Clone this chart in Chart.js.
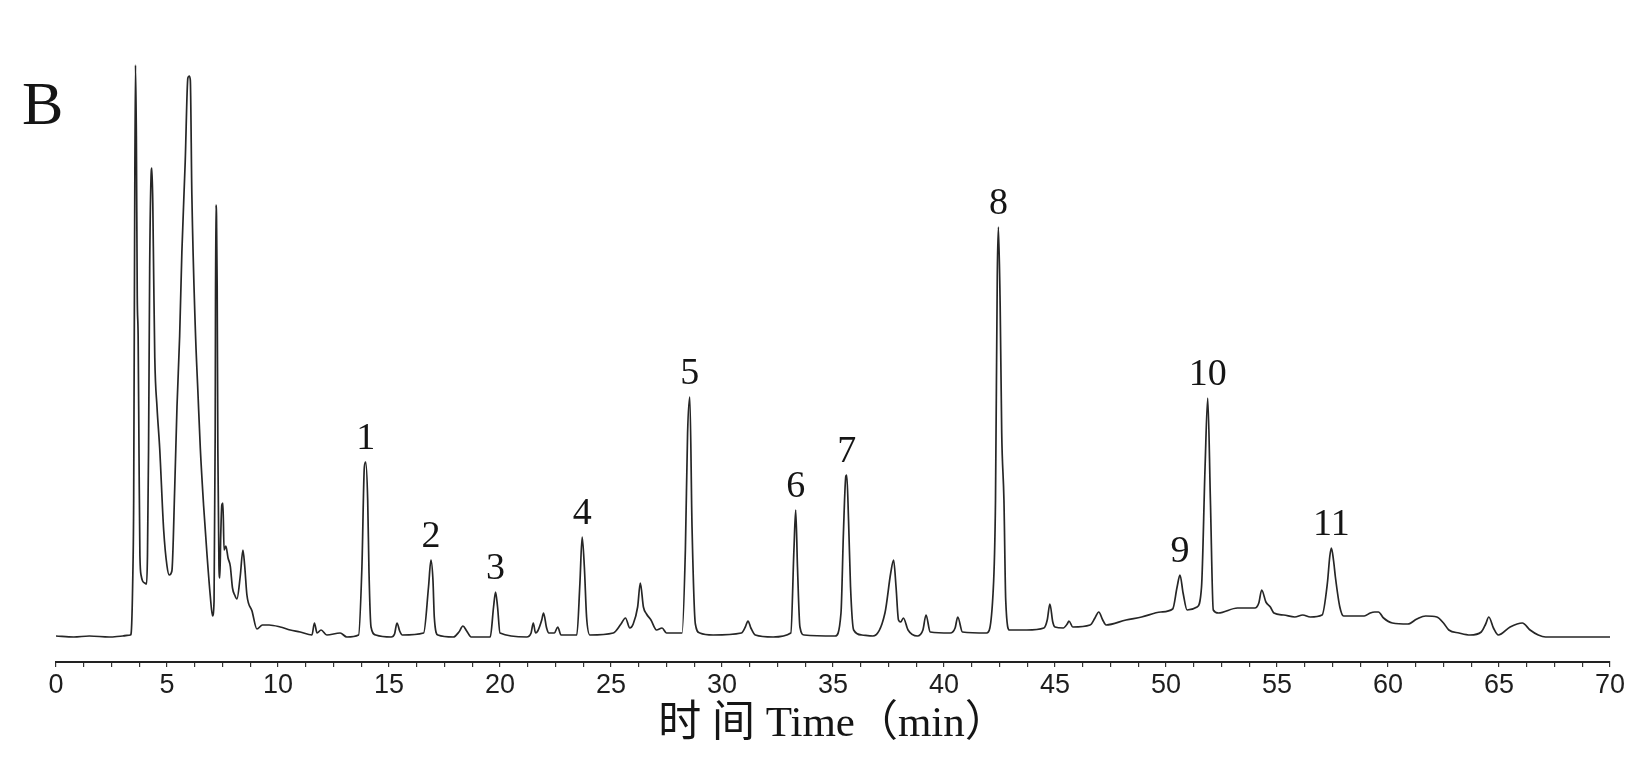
<!DOCTYPE html>
<html>
<head>
<meta charset="utf-8">
<title>HPLC chromatogram B</title>
<script src="https://cdn.jsdelivr.net/npm/chart.js@4.4.1/dist/chart.umd.min.js"></script>
<style>
    html, body { margin: 0; padding: 0; background: #fff; }
    #wrap { width: 1652px; height: 763px; position: relative; }
</style>
</head>
<body>
<div id="wrap"><canvas id="chromChart"></canvas></div>
<script>
// Chromatogram trace (retention time in min, detector response in arbitrary units)
const retentionTime = [
    0.0, 0.8, 1.5, 2.4, 3.0, 3.35, 3.38, 3.46, 3.50, 3.54, 3.58, 3.62, 3.66, 3.70, 3.74, 3.78, 3.84, 3.90, 4.00, 4.08,
    4.12, 4.17, 4.22, 4.28, 4.32, 4.36, 4.40, 4.45, 4.55, 4.67, 4.85, 5.00, 5.10, 5.22, 5.35, 5.45, 5.57, 5.67, 5.82, 5.94,
    6.00, 6.05, 6.12, 6.27, 6.40, 6.50, 6.65, 6.80, 6.95, 7.05, 7.12, 7.17, 7.20, 7.23, 7.26, 7.29, 7.34, 7.38, 7.42, 7.47,
    7.52, 7.57, 7.65, 7.75, 7.85, 7.95, 8.05, 8.15, 8.30, 8.42, 8.50, 8.60, 8.83, 9.05, 9.30, 9.60, 10.1, 10.55, 11.0, 11.53,
    11.64, 11.76, 11.94, 12.2, 12.8, 13.1, 13.63, 13.78, 13.89, 13.95, 14.04, 14.10, 14.19, 14.40, 15.10, 15.25, 15.36, 15.48, 15.60, 16.56,
    16.78, 16.89, 16.98, 17.04, 17.20, 17.90, 18.15, 18.33, 18.50, 18.70, 19.56, 19.71, 19.80, 19.89, 20.00, 21.20, 21.40, 21.50, 21.60, 21.70,
    21.88, 21.96, 22.10, 22.20, 22.45, 22.60, 22.75, 23.46, 23.60, 23.70, 23.80, 23.90, 24.05, 25.10, 25.45, 25.65, 25.85, 26.00, 26.20, 26.32,
    26.46, 26.60, 26.80, 27.05, 27.30, 27.50, 28.20, 28.35, 28.45, 28.55, 28.65, 28.80, 29.00, 29.60, 30.87, 31.05, 31.17, 31.30, 31.50, 32.30,
    33.10, 33.24, 33.32, 33.40, 33.51, 33.70, 35.10, 35.36, 35.47, 35.58, 35.62, 35.70, 35.79, 35.93, 36.30, 36.80, 37.34, 37.60, 37.73, 37.84,
    37.95, 38.05, 38.17, 38.38, 38.80, 39.05, 39.19, 39.38, 40.28, 40.50, 40.62, 40.83, 41.92, 42.21, 42.32, 42.40, 42.45, 42.53, 42.60, 42.70,
    42.78, 42.95, 43.73, 44.50, 44.65, 44.77, 44.90, 45.00, 45.37, 45.55, 45.63, 45.80, 46.58, 46.80, 46.97, 47.15, 47.30, 48.20, 48.90, 49.77,
    50.30, 50.50, 50.63, 50.77, 50.95, 51.40, 51.60, 51.76, 51.88, 52.00, 52.13, 52.36, 53.22, 54.00, 54.18, 54.31, 54.50, 54.70, 54.86, 55.30,
    55.80, 56.16, 56.50, 57.03, 57.27, 57.38, 57.45, 57.55, 57.63, 57.83, 58.00, 58.93, 59.20, 59.40, 59.57, 59.80, 60.20, 60.90, 61.30, 61.70,
    62.20, 62.50, 62.74, 63.20, 63.70, 64.20, 64.40, 64.54, 64.75, 64.97, 65.50, 66.05, 66.40, 66.77, 67.10, 68.5, 70.0
];
const response = [
    0, -1, 0, -1, 0, 1, 2, 60, 139, 392, 571, 500, 340, 300, 180, 80, 60, 55, 53, 52,
    80, 188, 368, 458, 468, 433, 360, 278, 229, 188, 106, 70, 61, 65, 150, 229, 300, 384, 474, 558,
    560, 556, 441, 311, 240, 188, 130, 82, 40, 20, 35, 200, 431, 420, 350, 188, 70, 58, 100, 131,
    133, 86, 90, 78, 70, 48, 41, 37, 60, 86, 70, 41, 25, 7, 11, 11, 9, 6, 4, 1,
    13, 3, 6, 1, 3, -1, 1, 69, 169, 174, 136, 63, 9, 1, -1, 2, 13, 5, 1, 3,
    49, 76, 56, 19, 1, -1, 4, 10, 5, -1, -1, 29, 44, 29, 3, -1, 3, 13, 3, 5,
    16, 23, 8, 3, 3, 9, 1, 1, 53, 99, 69, 19, 1, 3, 12, 18, 8, 12, 29, 53,
    29, 22, 16, 6, 8, 3, 3, 86, 203, 239, 109, 12, 3, 1, 3, 9, 15, 8, 1, -1,
    3, 86, 126, 69, 9, 1, 0, 23, 103, 160, 161, 116, 49, 6, 1, 0, 23, 63, 76, 49,
    16, 14, 18, 6, 0, 6, 21, 4, 3, 8, 19, 4, 3, 43, 136, 360, 409, 330, 203, 136,
    36, 6, 6, 8, 16, 32, 14, 9, 8, 12, 15, 9, 11, 18, 24, 16, 11, 16, 19, 24,
    27, 49, 61, 43, 26, 29, 49, 169, 238, 136, 26, 23, 28, 28, 33, 46, 34, 29, 23, 21,
    19, 21, 19, 21, 53, 80, 88, 75, 59, 29, 20, 20, 23, 24, 24, 18, 13, 12, 17, 20,
    19, 13, 6, 3, 1, 4, 12, 19, 8, 1, 9, 13, 6, 1, -1, -1, -1
];

// Numbered peaks
const peakNames = ['1', '2', '3', '4', '5', '6', '7', '8', '9', '10', '11'];
const peakTimes = [13.95, 16.89, 19.80, 23.70, 28.55, 33.32, 35.62, 42.45, 50.63, 51.88, 57.45];

// Axis settings
const timeMin = 0;
const timeMax = 70;
const timeStep = 1.25;
const labelEvery = 5;
const responseMin = -26;
const responseMax = 596;

const panelLetter = 'B';
const axisTitle = '时 间 Time（min）';

const serifFont = '"Liberation Serif", "Times New Roman", "Noto Sans CJK SC", serif';
const sansFont = '"Liberation Sans", Arial, sans-serif';

// Draw peak numbers and the panel letter
const annotationPlugin = {
    id: 'peakAnnotations',
    afterDatasetsDraw(chart) {
        const ctx = chart.ctx;
        const xScale = chart.scales.x;
        const yScale = chart.scales.y;

        ctx.save();
        ctx.fillStyle = '#151515';
        ctx.font = '38px ' + serifFont;
        ctx.textAlign = 'center';
        ctx.textBaseline = 'alphabetic';

        peakNames.forEach((name, k) => {
            const idx = retentionTime.indexOf(peakTimes[k]);
            const px = xScale.getPixelForValue(peakTimes[k]);
            const py = yScale.getPixelForValue(response[idx]);
            ctx.fillText(name, px, py - 13);
        });

        ctx.font = '62px ' + serifFont;
        ctx.textAlign = 'left';
        ctx.fillText(panelLetter, 22, 124);
        ctx.restore();
    }
};

const ctx = document.getElementById('chromChart').getContext('2d');

new Chart(ctx, {
    type: 'line',
    data: {
        datasets: [{
            label: 'Response',
            data: retentionTime.map((t, i) => ({ x: t, y: response[i] })),
            borderColor: '#262626',
            borderWidth: 1.7,
            pointRadius: 0,
            cubicInterpolationMode: 'monotone',
            fill: false
        }]
    },
    options: {
        responsive: true,
        maintainAspectRatio: false,
        animation: false,
        layout: {
            padding: { left: 56, right: 42, top: 40, bottom: 0 }
        },
        plugins: {
            legend: { display: false },
            tooltip: { enabled: false }
        },
        scales: {
            x: {
                type: 'linear',
                min: timeMin,
                max: timeMax,
                afterFit(scale) {
                    scale.height = 101;
                    scale.paddingLeft = 0;
                    scale.paddingRight = 0;
                },
                border: {
                    display: true,
                    color: '#222',
                    width: 2
                },
                grid: {
                    display: true,
                    drawOnChartArea: false,
                    drawTicks: true,
                    tickLength: 5,
                    color: '#333',
                    lineWidth: 1.2
                },
                ticks: {
                    stepSize: timeStep,
                    autoSkip: false,
                    maxRotation: 0,
                    padding: 2,
                    color: '#1e1e1e',
                    font: { family: sansFont, size: 27 },
                    callback: (value) => (value % labelEvery === 0 ? String(value) : '')
                },
                title: {
                    display: true,
                    text: axisTitle,
                    color: '#151515',
                    font: { family: serifFont, size: 43 },
                    padding: { top: 0, bottom: 12 }
                }
            },
            y: {
                display: false,
                min: responseMin,
                max: responseMax
            }
        }
    },
    plugins: [annotationPlugin]
});
</script>
</body>
</html>
